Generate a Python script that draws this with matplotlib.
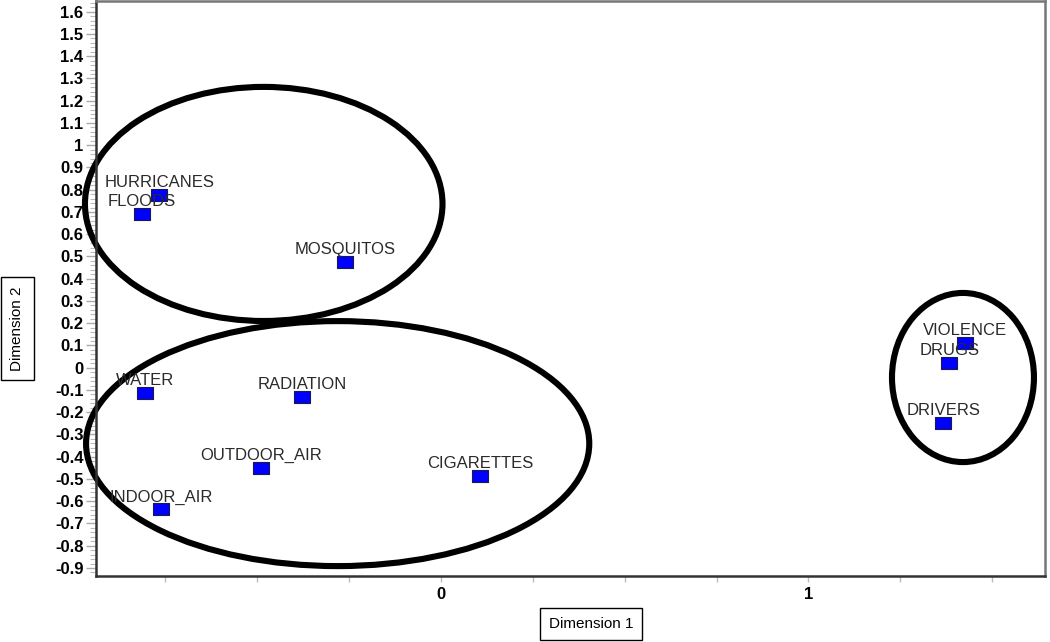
import matplotlib
matplotlib.use("Agg")
import matplotlib.pyplot as plt
from matplotlib.patches import Ellipse
from matplotlib.ticker import MultipleLocator, FixedLocator, FuncFormatter

plt.rcParams['font.family'] = ['Liberation Sans', 'DejaVu Sans']
plt.rcParams['axes.unicode_minus'] = False

# Data: MDS coordinates
labels = ["HURRICANES", "FLOODS", "MOSQUITOS", "WATER", "RADIATION",
          "OUTDOOR_AIR", "CIGARETTES", "INDOOR_AIR", "VIOLENCE", "DRUGS", "DRIVERS"]
dim1 = [-0.765, -0.813, -0.261, -0.805, -0.376, -0.489, 0.108, -0.760, 1.425, 1.383, 1.366]
dim2 = [0.776, 0.689, 0.476, -0.115, -0.132, -0.452, -0.487, -0.637, 0.110, 0.020, -0.250]

# Cluster ellipses: centre x, centre y, width, height (data units)
ell_cx = [-0.481, -0.280, 1.420]
ell_cy = [0.736, -0.341, -0.044]
ell_w = [0.972, 1.368, 0.386]
ell_h = [1.052, 1.101, 0.760]

fig = plt.figure(figsize=(10.5, 6.42), dpi=100)
ax = fig.add_axes([96/1050, 1 - 576/642, (1045-96)/1050, (576-1)/642])
ax.set_xlim(-0.937, 1.643)
ax.set_ylim(-0.936, 1.648)

for cx, cy, w, h in zip(ell_cx, ell_cy, ell_w, ell_h):
    ax.add_patch(Ellipse((cx, cy), w, h, fill=False, ec='black', lw=4.4,
                         clip_on=False, zorder=2))

rect = [(-1, -0.69), (1, -0.69), (1, 0.69), (-1, 0.69), (-1, -0.69)]
ax.plot(dim1, dim2, ls='none', marker=rect, ms=11.5, mfc='#0000ff',
        mec='#1a1a50', mew=0.8, zorder=3)

for lab, x, y in zip(labels, dim1, dim2):
    ax.annotate(lab, (x, y), xytext=(0, 5.8), textcoords='offset points',
                ha='center', va='baseline', fontsize=12, color='#2a2a2a', zorder=4)

# ticks
def yfmt(v, p):
    if abs(v) < 1e-9:
        return '0'
    return ('%.1f' % v).rstrip('0').rstrip('.')

ax.yaxis.set_major_locator(MultipleLocator(0.1))
ax.yaxis.set_minor_locator(MultipleLocator(0.02))
ax.yaxis.set_major_formatter(FuncFormatter(yfmt))
ax.xaxis.set_major_locator(FixedLocator([-0.75, -0.5, -0.25, 0, 0.25, 0.5, 0.75, 1, 1.25, 1.5]))
ax.xaxis.set_major_formatter(FuncFormatter(lambda v, p: '%d' % round(v) if abs(v - round(v)) < 1e-9 else ''))

ax.tick_params(axis='y', which='major', length=7, width=1, color='#aaaaaa', pad=2,
               labelsize=12)
ax.tick_params(axis='y', which='minor', length=4, width=0.8, color='#bbbbbb')
ax.tick_params(axis='x', which='major', length=4, width=1, color='#bbbbbb', pad=4,
               labelsize=12)
for t in ax.get_yticklabels() + ax.get_xticklabels():
    t.set_fontweight('bold')

for s in ['left', 'bottom']:
    ax.spines[s].set_color('#333333')
    ax.spines[s].set_linewidth(1.8)
for s in ['top', 'right']:
    ax.spines[s].set_color('#777777')
    ax.spines[s].set_linewidth(1.8)

fig.text(591/1050, 1 - 624/642, "Dimension 1", ha='center', va='center', fontsize=11,
         bbox=dict(boxstyle='square,pad=0.6', fc='white', ec='black', lw=1))
fig.text(17.5/1050, 1 - 328.5/642, "Dimension 2", ha='center', va='center', fontsize=11,
         rotation=90,
         bbox=dict(boxstyle='square,pad=0.6', fc='white', ec='black', lw=1))

fig.savefig("out.png", dpi=100)
